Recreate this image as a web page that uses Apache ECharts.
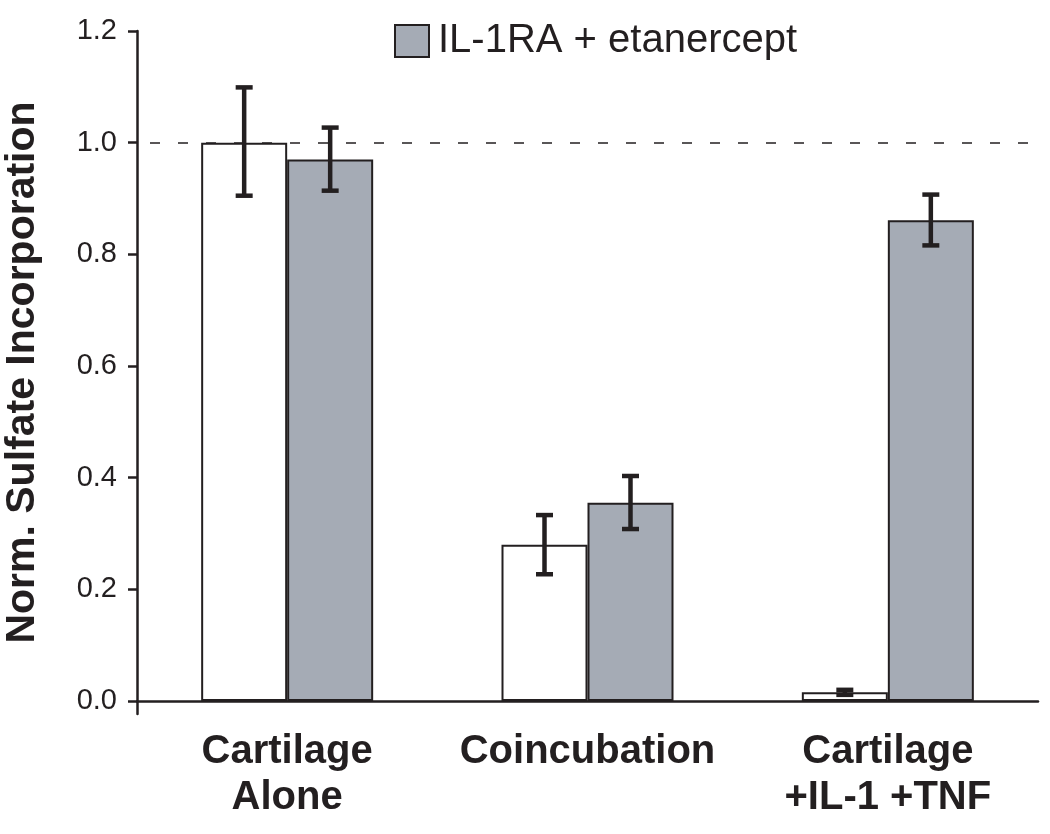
<!DOCTYPE html>
<html>
<head>
<meta charset="utf-8">
<script src="https://cdn.jsdelivr.net/npm/echarts@6/dist/echarts.min.js"></script>
<style>html,body{margin:0;padding:0;background:#fff;}#c{width:1050px;height:834px;}</style>
</head>
<body>
<div id="c"></div>
<script>
const categories = ['Cartilage\nAlone', 'Coincubation', 'Cartilage\n+IL-1 +TNF'];
const untreatedValues = [1.0, 0.28, 0.0155];
const untreatedLow = [0.905, 0.227, 0.011];
const untreatedHigh = [1.099, 0.333, 0.020];
const inhibitorValues = [0.970, 0.355, 0.861];
const inhibitorLow = [0.914, 0.308, 0.816];
const inhibitorHigh = [1.027, 0.403, 0.907];
const yTicks = [0, 0.2, 0.4, 0.6, 0.8, 1.0, 1.2];

const INK = '#231f20';
const GRAY = '#a5abb5';
const BAR_W = 86;
const FONT = '"Liberation Sans", Arial, Helvetica, sans-serif';

function errSeries(low, high, side) {
  return {
    type: 'custom',
    z: 5,
    silent: true,
    data: categories.map((c, i) => [i, low[i], high[i]]),
    encode: { x: 0, y: [1, 2] },
    renderItem: function (params, api) {
      const i = api.value(0);
      const pLow = api.coord([i, api.value(1)]);
      const pHigh = api.coord([i, api.value(2)]);
      const x = pLow[0] + side * BAR_W / 2;
      const cap = 8.5;
      const st = { stroke: INK, lineWidth: 4.5 };
      return {
        type: 'group',
        children: [
          { type: 'line', shape: { x1: x, y1: pLow[1], x2: x, y2: pHigh[1] }, style: st },
          { type: 'line', shape: { x1: x - cap, y1: pLow[1], x2: x + cap, y2: pLow[1] }, style: st },
          { type: 'line', shape: { x1: x - cap, y1: pHigh[1], x2: x + cap, y2: pHigh[1] }, style: st }
        ]
      };
    }
  };
}

const chart = echarts.init(document.getElementById('c'));
chart.setOption({
  animation: false,
  backgroundColor: '#fff',
  grid: { left: 137, right: 12, top: 31, bottom: 120, containLabel: false, outerBoundsMode: 'none' },
  legend: {
    data: [{ name: 'IL-1RA + etanercept', icon: 'rect' }],
    left: 389, top: 16,
    itemWidth: 34, itemHeight: 32, itemGap: 15,
    textStyle: { fontFamily: FONT, fontSize: 40, color: INK, padding: [0, 0, 0, 4] },
    itemStyle: { borderColor: INK, borderWidth: 2 }
  },
  xAxis: {
    type: 'category',
    data: categories,
    axisLine: { onZero: true, lineStyle: { color: INK, width: 2.5 } },
    axisTick: { show: false },
    axisLabel: {
      interval: 0,
      fontFamily: FONT, fontSize: 40, fontWeight: 'bold', color: INK,
      lineHeight: 46, margin: 15
    }
  },
  yAxis: {
    type: 'value',
    min: -0.0233, max: 1.2,
    name: 'Norm. Sulfate Incorporation',
    nameLocation: 'middle',
    nameGap: 94,
    nameTextStyle: { fontFamily: FONT, fontSize: 41, fontWeight: 'bold', color: INK },
    axisLine: { show: true, lineStyle: { color: INK, width: 2.5 } },
    axisTick: { show: true, length: 9, customValues: yTicks, lineStyle: { color: INK, width: 2.5 } },
    axisLabel: {
      customValues: yTicks,
      margin: 20,
      fontFamily: FONT, fontSize: 29, color: INK,
      formatter: v => v.toFixed(1)
    },
    splitLine: { show: false }
  },
  series: [
    {
      name: 'Untreated',
      type: 'bar',
      data: untreatedValues,
      barWidth: BAR_W,
      barGap: '0%',
      itemStyle: { color: '#ffffff', borderColor: INK, borderWidth: 2 },
      markLine: {
        silent: true,
        symbol: 'none',
        label: { show: false },
        lineStyle: { color: INK, type: [10, 18], dashOffset: 15, width: 1.6 },
        data: [{ yAxis: 1.0 }]
      }
    },
    {
      name: 'IL-1RA + etanercept',
      type: 'bar',
      data: inhibitorValues,
      barWidth: BAR_W,
      barGap: '0%',
      itemStyle: { color: GRAY, borderColor: INK, borderWidth: 2 }
    },
    errSeries(untreatedLow, untreatedHigh, -1),
    errSeries(inhibitorLow, inhibitorHigh, 1)
  ]
});
</script>
</body>
</html>
